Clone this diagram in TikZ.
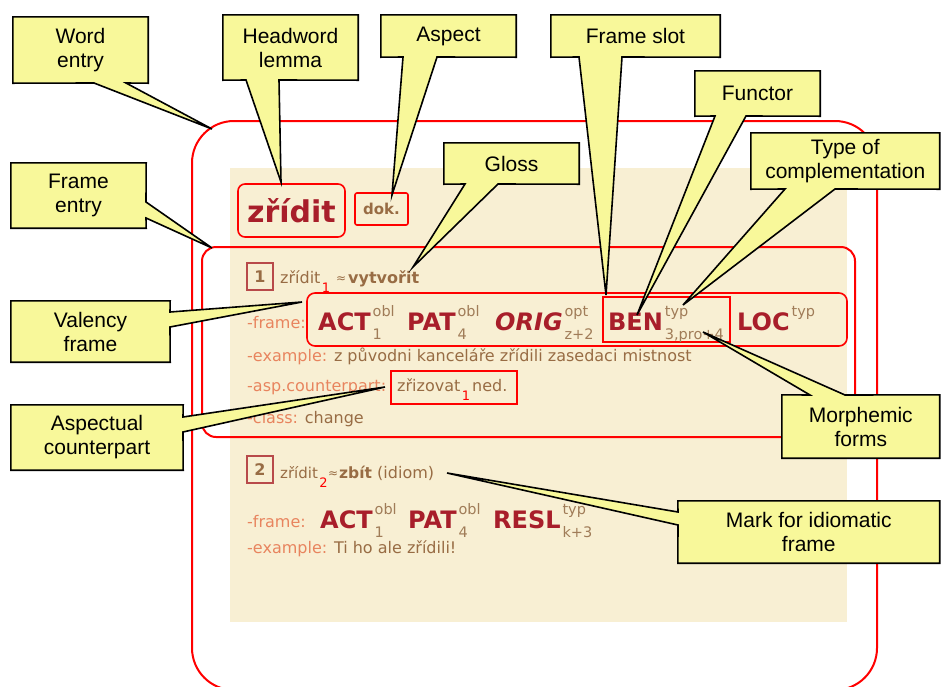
\documentclass[tikz,border=0pt]{standalone}
\usepackage{fontspec}
\setmainfont{DejaVu Sans}
\newfontfamily\calfont{Liberation Sans}
\usetikzlibrary{calc}
\definecolor{cyel}{HTML}{F8F89A}
\definecolor{cbeige}{HTML}{F8EFD3}
\definecolor{cred}{HTML}{FF0000}
\definecolor{cdark}{HTML}{A81E2A}
\definecolor{cbrown}{HTML}{986C44}
\definecolor{corange}{HTML}{E8845E}
\definecolor{cnum}{HTML}{B84A4A}
\definecolor{cidx}{HTML}{A07C58}
\pgfdeclarelayer{fg}
\pgfsetlayers{main,fg}
\tikzset{
  callout/.style={fill=cyel, draw=black, line width=1.6pt},
  ctext/.style={font=\calfont\fontsize{21}{24}\selectfont, align=center, inner sep=0pt},
  big/.style={font=\fontsize{24}{26}\selectfont\bfseries, text=cdark, inner sep=0pt, anchor=base west},
  idx/.style={font=\fontsize{14.5}{16}\selectfont, text=cidx, inner sep=0pt, anchor=base west},
  lab/.style={font=\fontsize{16}{18}\selectfont, text=corange, inner sep=0pt, anchor=base west},
  txt/.style={font=\fontsize{16}{18}\selectfont, text=cbrown, inner sep=0pt, anchor=base west},
  approx/.style={font=\fontsize{12}{14}\selectfont, text=cbrown, inner sep=0pt, anchor=base west},
  rsub/.style={font=\fontsize{13}{15}\selectfont, text=cred, inner sep=0pt, anchor=base west},
  numbox/.style={draw=cnum, line width=2pt, minimum width=26pt, minimum height=27pt, inner sep=0pt, font=\fontsize{16}{18}\selectfont\bfseries, text=cbrown},
  redbox/.style={draw=cred, line width=1.6pt, inner sep=0pt},
}
\newcommand\slotw[6]{%
  \node[big] (#1) at (#2,#3) {#4};
  \node[idx] (#1p) at ($(#1.base east)+(1.5,-14)$) {#5};
  \node[idx] (#1b) at ($(#1.base east)+(1.5,9)$) {#6};}
\begin{document}
\begin{tikzpicture}[x=1pt,y=-1pt]
\useasboundingbox (0,0) rectangle (941,686);
% ---------- dictionary entry ----------
\fill[cbeige] (230,168) rectangle (847,622);
\begin{scope}
  \clip (0,0) rectangle (941,686);
  \draw[cred, line width=2pt, rounded corners=42pt] (192,121) rectangle (877,690);
\end{scope}
\draw[cred, line width=2pt, rounded corners=14pt] (202,247) rectangle (855,437);

\node[redbox, rounded corners=7pt, minimum width=107pt, minimum height=53pt,
      font=\fontsize{30}{32}\selectfont\bfseries, text=cdark] (head) at (291.5,210.5) {zřídit};
\node[redbox, rounded corners=2pt, minimum width=53pt, minimum height=32pt,
      font=\fontsize{15}{17}\selectfont\bfseries, text=cbrown] (aspm) at (381.5,209) {dok.};

% frame 1
\node[numbox] (n1) at (260,276.5) {1};
\node[txt] (l1a) at (280,283) {zřídit};
\node[rsub] (l1s) at ($(l1a.base east)+(1,9)$) {1};
\node[approx] (l1b) at (336,282) {≈};
\node[txt, font=\fontsize{16}{18}\selectfont\bfseries] (l1c) at (348,283) {vytvořit};

\node[lab] (fr1l) at (247,328) {-frame:};
\node[redbox, rounded corners=8pt, minimum width=540pt, minimum height=53pt] (fr1) at (577,319.5) {};
\node[redbox, minimum width=127pt, minimum height=45pt] (benbox) at (666.5,319.5) {};
\slotw{act1}{318}{330}{ACT}{obl}{1}
\slotw{pat1}{407}{330}{PAT}{obl}{4}
\slotw{orig1}{495}{330}{\itshape ORIG}{opt}{z+2}
\slotw{ben1}{608}{330}{BEN}{typ}{3,pro+4}
\slotw{loc1}{737}{330}{LOC}{typ}{}

\node[txt] (ex1) at (247,361) {\textcolor{corange}{-example:} z původni kanceláře zřídili zasedaci mistnost};

\node[lab] (asp1) at (247,391) {-asp.counterpart:};
\node[redbox, minimum width=126pt, minimum height=33pt] (cpbox) at (454,387.5) {};
\node[txt] (cpa) at (397,391) {zřizovat};
\node[rsub] (cps) at ($(cpa.base east)+(1,9)$) {1};
\node[txt] (cpb) at (472,391) {ned.};

\node[txt] (cl1) at (247,423) {\textcolor{corange}{-class:} change};

% frame 2
\node[numbox] (n2) at (260,469.5) {2};
\node[txt, font=\fontsize{15}{17}\selectfont] (l2a) at (280,478) {zřídit};
\node[rsub] (l2s) at ($(l2a.base east)+(1,9)$) {2};
\node[approx] (l2b) at (328,477) {≈};
\node[txt, font=\fontsize{15.5}{17}\selectfont\bfseries] (l2c) at (339,478) {zbít};
\node[txt] (l2d) at (377,478) {(idiom)};

\node[lab] (fr2l) at (247,527) {-frame:};
\slotw{act2}{320}{528}{ACT}{obl}{1}
\slotw{pat2}{408}{528}{PAT}{obl}{4}
\slotw{resl2}{493}{528}{RESL}{typ}{k+3}

\node[txt] (ex2) at (247,553) {\textcolor{corange}{-example:} Ti ho ale zřídili!};

% ---------- callout texts (foreground) ----------
\begin{pgfonlayer}{fg}
\node[ctext, minimum width=135pt, minimum height=66pt] (we) at (80.5,50) {Word\\entry};
\node[ctext, minimum width=135pt, minimum height=65pt] (hl) at (290.5,47.5) {Headword\\lemma};
\node[ctext, minimum width=135pt, minimum height=42pt] (as) at (448.5,36) {Aspect};
\node[ctext, minimum width=169pt, minimum height=42pt] (fs) at (635.5,36) {Frame slot};
\node[ctext, minimum width=125pt, minimum height=45pt] (fu) at (757.5,93.5) {Functor};
\node[ctext, minimum width=135pt, minimum height=41pt] (gl) at (511.5,163.5) {Gloss};
\node[ctext, minimum width=188.5pt, minimum height=56pt] (tc) at (845.25,161) {Type of\\complementation};
\node[ctext, minimum width=135pt, minimum height=65pt] (fe) at (78.5,195.5) {Frame\\entry};
\node[ctext, minimum width=159pt, minimum height=61pt] (vf) at (90.5,331.5) {Valency\\frame};
\node[ctext, minimum width=172pt, minimum height=65pt] (ac) at (97,437.5) {Aspectual\\counterpart};
\node[ctext, minimum width=157.5pt, minimum height=63pt] (mf) at (860.75,426.5) {Morphemic\\forms};
\node[ctext, minimum width=261.5pt, minimum height=62pt] (mi) at (808.75,532) {Mark for idiomatic\\frame};
\end{pgfonlayer}

% ---------- callout shapes ----------
\coordinate (weT) at (212,129);
\coordinate (hlT) at (281,182);
\coordinate (asT) at (392,195);
\coordinate (fsT) at (606,295);
\coordinate (fuT) at (637,315);
\coordinate (glT) at (413,267);
\coordinate (tcT) at (683,305);
\coordinate (feT) at (212,248);
\coordinate (vfT) at (302,302);
\coordinate (acT) at (385,387);
\coordinate (mfT) at (703,332);
\coordinate (miT) at (447,473);

\draw[callout] (we.north west) -- (we.north east) -- (we.south east) -- (126,83) -- (weT) -- (94,83) -- (we.south west) -- cycle;
\draw[callout] (hl.north west) -- (hl.north east) -- (hl.south east) -- (279,80) -- (hlT) -- (246,80) -- (hl.south west) -- cycle;
\draw[callout] (as.north west) -- (as.north east) -- (as.south east) -- (437,57) -- (asT) -- (403,57) -- (as.south west) -- cycle;
\draw[callout] (fs.north west) -- (fs.north east) -- (fs.south east) -- (622,57) -- (fsT) -- (579,57) -- (fs.south west) -- cycle;
\draw[callout] (fu.north west) -- (fu.north east) -- (fu.south east) -- (746,116) -- (fuT) -- (715,116) -- (fu.south west) -- cycle;
\draw[callout] (gl.north west) -- (gl.north east) -- (gl.south east) -- (498,184) -- (glT) -- (465,184) -- (gl.south west) -- cycle;
\draw[callout] (tc.north west) -- (tc.north east) -- (tc.south east) -- (835,189) -- (tcT) -- (785,189) -- (tc.south west) -- cycle;
\draw[callout] (fe.north west) -- (fe.north east) -- (146,202) -- (feT) -- (146,218) -- (fe.south east) -- (fe.south west) -- cycle;
\draw[callout] (vf.north west) -- (vf.north east) -- (170,312) -- (vfT) -- (170,327) -- (vf.south east) -- (vf.south west) -- cycle;
\draw[callout] (ac.north west) -- (ac.north east) -- (183,417) -- (acT) -- (183,432) -- (ac.south east) -- (ac.south west) -- cycle;
\draw[callout] (mf.north west) -- (810,395) -- (mfT) -- (845,395) -- (mf.north east) -- (mf.south east) -- (mf.south west) -- cycle;
\draw[callout] (mi.north west) -- (mi.north east) -- (mi.south east) -- (mi.south west) -- (678,525) -- (miT) -- (678,512) -- cycle;
\end{tikzpicture}
\end{document}
